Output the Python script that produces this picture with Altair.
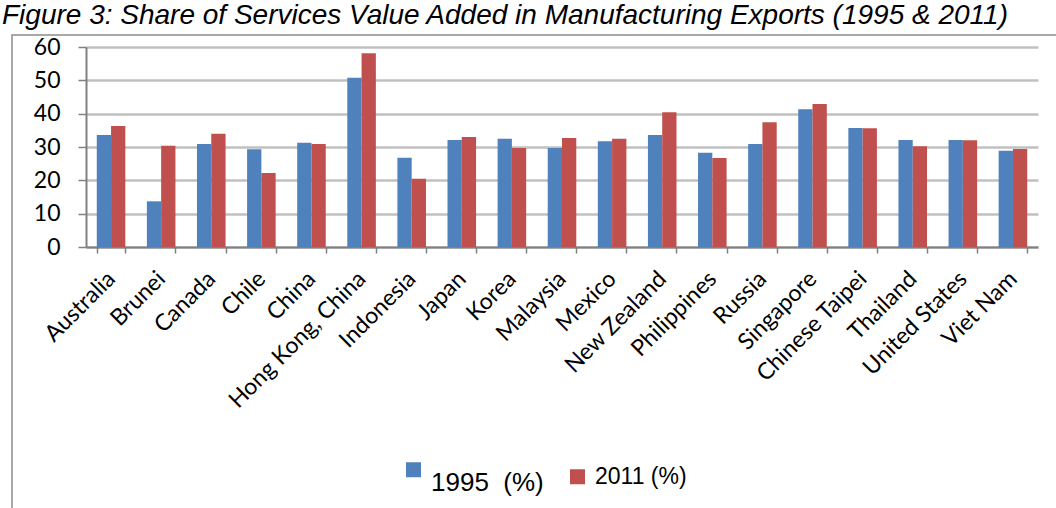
import altair as alt
import pandas as pd

countries = ["Australia", "Brunei", "Canada", "Chile", "China", "Hong Kong, China",
             "Indonesia", "Japan", "Korea", "Malaysia", "Mexico", "New Zealand",
             "Philippines", "Russia", "Singapore", "Chinese Taipei", "Thailand",
             "United States", "Viet Nam"]
v1995 = [33.6, 13.7, 30.9, 29.3, 31.3, 50.8, 26.8, 32.1, 32.5, 29.7, 31.7, 33.6,
         28.3, 30.9, 41.3, 35.7, 32.1, 32.1, 28.9]
v2011 = [36.3, 30.4, 34.0, 22.2, 30.9, 58.1, 20.5, 33.0, 29.7, 32.7, 32.5, 40.4,
         26.7, 37.4, 42.9, 35.6, 30.2, 32.0, 29.4]
series = ["1995\u00a0 (%)", "2011 (%)"]
colors = ["#4F81BD", "#C0504D"]
y_ticks = [0, 10, 20, 30, 40, 50, 60]
title_text = "Figure 3: Share of Services Value Added in Manufacturing Exports (1995 & 2011)"

rows = []
for c, a, b in zip(countries, v1995, v2011):
    rows.append({"Country": c, "Series": series[0], "Value": a})
    rows.append({"Country": c, "Series": series[1], "Value": b})
df = pd.DataFrame(rows)

W, H = 952, 200

bars = alt.Chart(df).mark_bar().encode(
    x=alt.X("Country:N", sort=countries, title=None,
            scale=alt.Scale(paddingInner=0.43, paddingOuter=0.215),
            axis=alt.Axis(labelAngle=-45, labelFont="Lato", labelFontSize=23,
                          labelColor="#000000", labelPadding=22, labelLimit=400,
                          tickBand="extent", tickColor="#808080", tickSize=6,
                          tickWidth=1.5, domainColor="#808080", domainWidth=2,
                          grid=False, labelAlign="right", labelBaseline="middle")),
    xOffset=alt.XOffset("Series:N", sort=series),
    y=alt.Y("Value:Q", title=None,
            scale=alt.Scale(domain=[0, 60], nice=False),
            axis=alt.Axis(values=y_ticks, labelFont="Lato", labelFontSize=23,
                          labelColor="#000000", labelPadding=18,
                          tickColor="#808080", tickSize=8, tickWidth=1.5,
                          domainColor="#808080", domainWidth=2,
                          gridColor="#C0C0C0", gridWidth=2.5)),
    color=alt.Color("Series:N", sort=series,
                    scale=alt.Scale(domain=series, range=colors),
                    legend=alt.Legend(title=None, orient="none", direction="horizontal",
                                      legendX=316, legendY=411,
                                      symbolType="square", symbolSize=225,
                                      symbolStrokeWidth=0,
                                      labelFont="Liberation Sans",
                                      labelFontSize={"expr": "datum.index == 0 ? 26 : 23"},
                                      labelBaseline={"expr": "datum.index == 0 ? 'top' : 'middle'"},
                                      labelColor="#000000",
                                      columnPadding=22, labelOffset=6)),
)

title_df = pd.DataFrame({"t": [title_text]})
title = alt.Chart(title_df).mark_text(
    align="left", baseline="alphabetic", font="Liberation Sans",
    fontStyle="italic", fontSize=28, color="#000000"
).encode(text="t:N", x=alt.value(-84), y=alt.value(-23))

frame = alt.Chart(title_df).mark_rect(
    fill=None, stroke="#8C8C8C", strokeWidth=1.5
).encode(x=alt.value(-74), x2=alt.value(1100), y=alt.value(-12), y2=alt.value(500))

chart = alt.layer(frame, bars, title).properties(
    width=W, height=H,
    padding={"left": 86, "top": 47, "right": 18, "bottom": 261},
    autosize=alt.AutoSizeParams(type="none"),
    background="#FFFFFF",
).configure_view(stroke=None)

chart.save("out.html", embed_options={"renderer": "svg", "actions": False})
